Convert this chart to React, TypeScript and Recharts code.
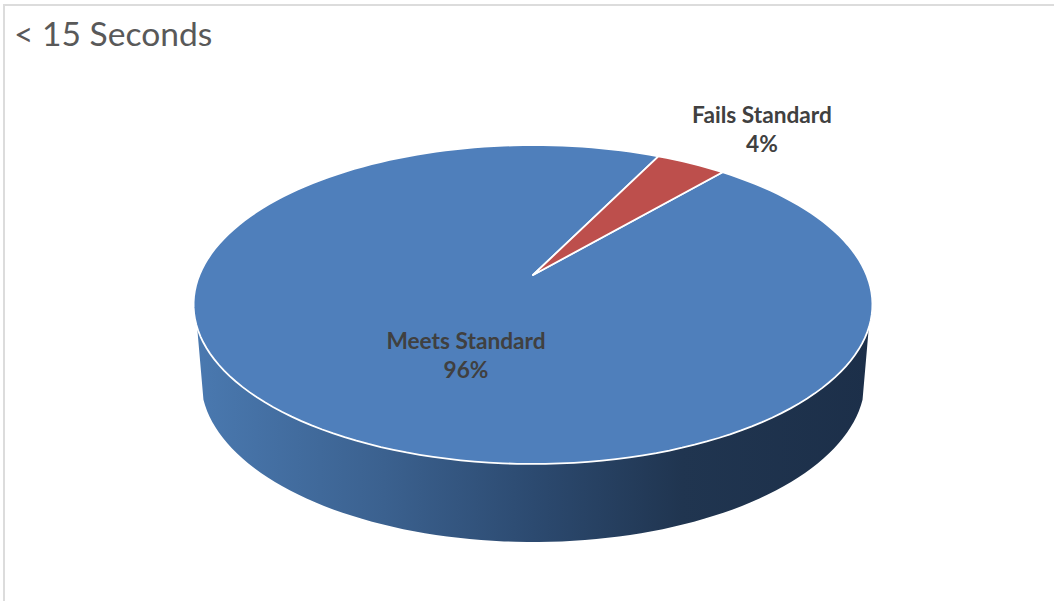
import { Pie, PieChart } from 'recharts'

const categories = ['Meets Standard', 'Fails Standard']
const shares = [96, 4]
const sliceColors = ['#4f7fbb', '#bd4f4c']

const data = categories.map((name, i) => ({ name, value: shares[i], fill: sliceColors[i] }))

const FONT = 'Lato, sans-serif'
// tilt of the disc: k is the perspective strength, widen stretches the radius sideways
const k = 0.185
const widen = 2.166
const labelAnchors = [
  { x: 466, y: 349 },
  { x: 762, y: 123 },
]

function project(cx: number, cy: number, r: number, deg: number) {
  const a = (deg * Math.PI) / 180
  const w = 1 + k * Math.sin(a)
  return {
    x: cx + (r * widen * Math.cos(a)) / w,
    y: cy - (r * Math.sin(a)) / w,
  }
}

function arcPoints(cx: number, cy: number, r: number, from: number, to: number) {
  const steps = Math.max(2, Math.ceil(Math.abs(to - from) / 2))
  const pts: string[] = []
  for (let i = 0; i <= steps; i++) {
    const p = project(cx, cy, r, from + ((to - from) * i) / steps)
    pts.push(`${p.x.toFixed(2)} ${p.y.toFixed(2)}`)
  }
  return pts
}

function TiltedSlice(props: any) {
  const { cx, cy, outerRadius: r, startAngle, endAngle, fill, index } = props
  const arc = arcPoints(cx, cy, r, startAngle, endAngle)
  const d = `M ${cx} ${cy} L ${arc.join(' L ')} Z`

  // the wall below the disc belongs to the big slice, painted before the top faces
  let wall = null
  if (index === 0) {
    const top = arcPoints(cx, cy, r, 187, 353)
    const bottom: string[] = []
    for (let deg = 353; deg >= 187; deg -= 2) {
      const a = (deg * Math.PI) / 180
      const px = cx + r * 2.156 * Math.cos(a)
      const py = cy + 105 - r * 1.052 * Math.sin(a)
      bottom.push(`${px.toFixed(2)} ${py.toFixed(2)}`)
    }
    wall = <path d={`M ${top.join(' L ')} L ${bottom.join(' L ')} Z`} fill="url(#wallShade)" />
  }

  return (
    <g>
      {wall}
      <path d={d} fill={fill} stroke="#ffffff" strokeWidth={1.8} strokeLinejoin="round" />
    </g>
  )
}

function SliceLabel(props: any) {
  const { index, name, percent } = props
  const at = labelAnchors[index]
  return (
    <text x={at.x} textAnchor="middle" fill="#404040" fontFamily={FONT} fontWeight={700} fontSize={22.7}>
      <tspan x={at.x} y={at.y}>
        {name}
      </tspan>
      <tspan x={at.x} y={at.y + 29}>
        {`${Math.round(percent * 100)}%`}
      </tspan>
    </text>
  )
}

export default function App() {
  return (
    <div style={{ position: 'absolute', left: 0, top: 0, width: 1054, height: 601, background: '#ffffff', overflow: 'hidden' }}>
      <div
        style={{
          position: 'absolute',
          left: 3,
          top: 4,
          right: 0,
          bottom: 0,
          borderTop: '2px solid #dcdcdc',
          borderLeft: '2px solid #dcdcdc',
        }}
      />
      <div style={{ position: 'absolute', left: 14, top: 13, fontFamily: FONT, fontSize: 33.6, color: '#595959', lineHeight: '40px' }}>
        {'< 15 Seconds'}
      </div>
      <div style={{ position: 'absolute', left: 0, top: 0 }}>
        <PieChart width={1054} height={601} margin={{ top: 0, right: 0, bottom: 0, left: 0 }}>
          <defs>
            <linearGradient id="wallShade" x1="0" y1="0" x2="1" y2="0">
              <stop offset="0%" stopColor="#4a79b0" />
              <stop offset="28%" stopColor="#3b618f" />
              <stop offset="50%" stopColor="#2c4a70" />
              <stop offset="72%" stopColor="#203550" />
              <stop offset="100%" stopColor="#1c2f49" />
            </linearGradient>
          </defs>
          <Pie
            data={data}
            dataKey="value"
            nameKey="name"
            cx={533}
            cy={275}
            outerRadius={154}
            startAngle={49.6}
            endAngle={-310.4}
            shape={TiltedSlice}
            label={SliceLabel}
            labelLine={false}
            isAnimationActive={false}
          />
        </PieChart>
      </div>
    </div>
  )
}
